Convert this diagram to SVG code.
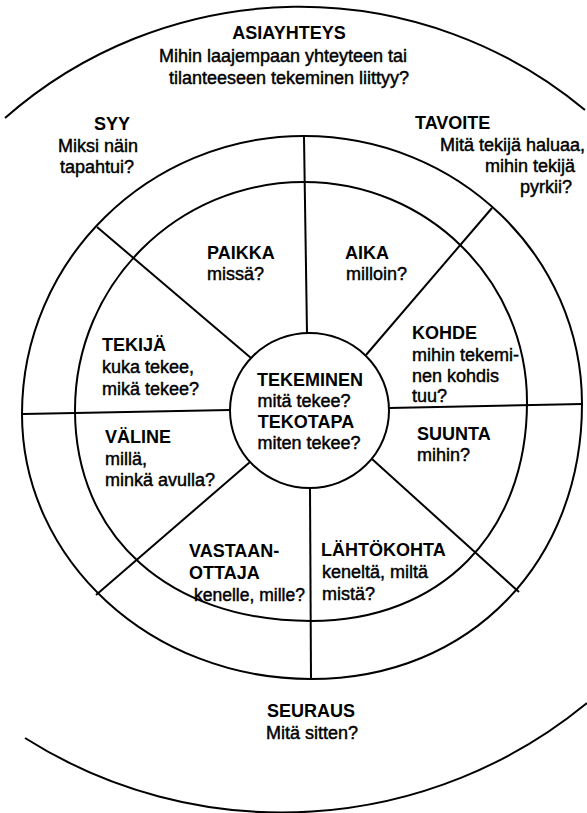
<svg xmlns="http://www.w3.org/2000/svg" width="587" height="813" viewBox="0 0 587 813">
<style>
.ln{fill:none;stroke:#000;stroke-width:2}
text{font-family:"Liberation Sans",Arial,sans-serif;font-size:18px;fill:#000}
.t{font-weight:bold}
.q{stroke:#000;stroke-width:0.45}
</style>
<rect width="587" height="813" fill="#fff"/>
<g id="rings">
<path class="ln" d="M5 118 A446 446 0 0 1 585 110"/>
<path class="ln" d="M25 738 A480 480 0 0 0 587 703"/>
<path class="ln" d="M304 136 C457.5 136 582 256 582 404 C582 560 472 679 311 679 C151.4 679 22 560.4 22 414 C22 260.5 148.3 136 304 136 Z"/>
<path class="ln" d="M304 182 C427.2 182 527 280.5 527 402 C527 533.4 440.6 621 311 621 C169.4 621 75 536.6 75 410 C75 284.1 177.5 182 304 182 Z"/>
<ellipse class="ln" cx="309.5" cy="410.5" rx="79.5" ry="77.5"/>
</g>
<g id="connectors">
<line class="ln" x1="304" y1="137" x2="307" y2="333"/>
<line class="ln" x1="310" y1="488" x2="311" y2="679"/>
<line class="ln" x1="23" y1="414" x2="230" y2="410"/>
<line class="ln" x1="389" y1="408" x2="582" y2="404"/>
<line class="ln" x1="97" y1="227" x2="251" y2="358"/>
<line class="ln" x1="492" y1="208" x2="366" y2="355"/>
<line class="ln" x1="96" y1="595" x2="250" y2="462"/>
<line class="ln" x1="519" y1="592" x2="372" y2="459"/>
</g>
<g id="asiayhteys">
<text class="t" x="289" y="39" text-anchor="middle">ASIAYHTEYS</text>
<text class="q" x="283" y="62" text-anchor="middle">Mihin laajempaan yhteyteen tai</text>
<text class="q" x="289" y="84" text-anchor="middle">tilanteeseen tekeminen liittyy?</text>
</g>
<g id="syy">
<text class="t" x="112" y="130" text-anchor="middle">SYY</text>
<text class="q" x="98" y="152" text-anchor="middle">Miksi näin</text>
<text class="q" x="97" y="173" text-anchor="middle">tapahtui?</text>
</g>
<g id="tavoite">
<text class="t" x="415" y="129">TAVOITE</text>
<text class="q" x="585" y="151" text-anchor="end">Mitä tekijä haluaa,</text>
<text class="q" x="575" y="172" text-anchor="end">mihin tekijä</text>
<text class="q" x="572" y="193" text-anchor="end">pyrkii?</text>
</g>
<g id="paikka">
<text class="t" x="207" y="259">PAIKKA</text>
<text class="q" x="207" y="280">missä?</text>
</g>
<g id="aika">
<text class="t" x="345" y="259">AIKA</text>
<text class="q" x="346" y="280">milloin?</text>
</g>
<g id="tekija">
<text class="t" x="102" y="351">TEKIJÄ</text>
<text class="q" x="102" y="373">kuka tekee,</text>
<text class="q" x="102" y="395">mikä tekee?</text>
</g>
<g id="kohde">
<text class="t" x="412" y="339">KOHDE</text>
<text class="q" x="412" y="361">mihin tekemi-</text>
<text class="q" x="412" y="382">nen kohdis</text>
<text class="q" x="412" y="402">tuu?</text>
</g>
<g id="tekeminen">
<text class="t" x="310" y="386" text-anchor="middle">TEKEMINEN</text>
<text class="q" x="304" y="407" text-anchor="middle">mitä tekee?</text>
<text class="t" x="306" y="428" text-anchor="middle">TEKOTAPA</text>
<text class="q" x="309" y="449" text-anchor="middle">miten tekee?</text>
</g>
<g id="suunta">
<text class="t" x="417" y="440">SUUNTA</text>
<text class="q" x="417" y="461">mihin?</text>
</g>
<g id="valine">
<text class="t" x="105" y="443">VÄLINE</text>
<text class="q" x="105" y="465">millä,</text>
<text class="q" x="105" y="486">minkä avulla?</text>
</g>
<g id="vastaanottaja">
<text class="t" x="189" y="557">VASTAAN-</text>
<text class="t" x="189" y="579">OTTAJA</text>
<text class="q" x="194" y="601" style="font-size:17.5px">kenelle, mille?</text>
</g>
<g id="lahtokohta">
<text class="t" x="321" y="556">LÄHTÖKOHTA</text>
<text class="q" x="322" y="578">keneltä, miltä</text>
<text class="q" x="322" y="600">mistä?</text>
</g>
<g id="seuraus">
<text class="t" x="311" y="717" text-anchor="middle">SEURAUS</text>
<text class="q" x="312" y="739" text-anchor="middle">Mitä sitten?</text>
</g>
</svg>
